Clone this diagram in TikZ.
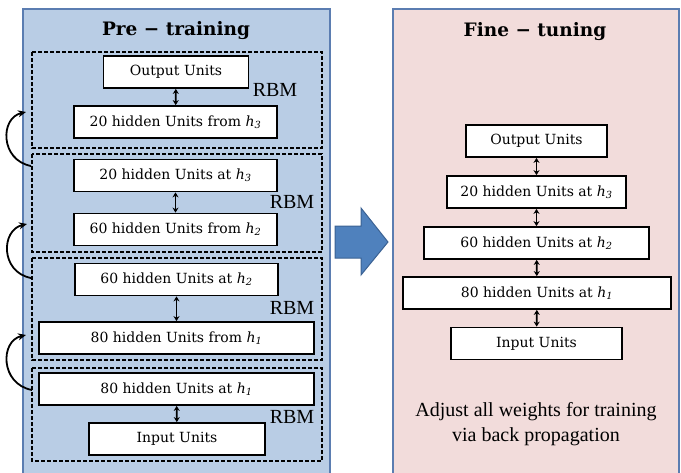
\documentclass[tikz,border=0pt]{standalone}
\usepackage{fontspec}
\setmainfont{DejaVu Serif}
\newfontfamily\timesf{Liberation Serif}
\usetikzlibrary{arrows.meta}
\definecolor{leftfill}{HTML}{B9CDE5}
\definecolor{rightfill}{HTML}{F2DCDB}
\definecolor{panelline}{HTML}{5B7DB1}
\definecolor{bigarrow}{HTML}{4F81BD}
\definecolor{bigarrowline}{HTML}{3B6293}
\newcommand{\hsub}[1]{\textit{h}\textsubscript{\textit{#1}}}
\tikzset{
  panel/.style={draw=panelline, line width=1.5pt},
  unitbox/.style={draw=black, fill=white, line width=1.8pt, minimum height=32, inner sep=0pt,
    font=\fontsize{14}{16}\selectfont},
  dashbox/.style={draw=black, line width=1.1pt, dash pattern=on 4pt off 2pt},
  dblarrow/.style={line width=1.6pt, {Stealth[length=5pt,width=6pt]}-{Stealth[length=5pt,width=6pt]}},
  curvarrow/.style={line width=1.8pt, -{Stealth[length=8pt,width=7pt]}},
  rbm/.style={font=\timesf\fontsize{20}{22}\selectfont, inner sep=0pt},
  titletext/.style={font=\bfseries\fontsize{18.5}{20}\selectfont, inner sep=0pt},
}
\begin{document}
\begin{tikzpicture}[x=1pt,y=-1pt]
\useasboundingbox (0,0) rectangle (681,472);
\begin{scope}
\clip (0,0) rectangle (681,472);
% panels
\draw[panel, fill=leftfill] (23,9) rectangle (330,490);
\draw[panel, fill=rightfill] (393,9) rectangle (679,490);
\end{scope}
% big arrow
\draw[fill=bigarrow, draw=bigarrowline, line width=1pt]
  (335,226) -- (361,226) -- (361,208) -- (388,242) -- (361,275) -- (361,258) -- (335,258) -- cycle;
% titles
\node[titletext] (t1) at (176,31) {Pre − training};
\node[titletext] (t2) at (535,32) {Fine − tuning};
% dashed RBM groups
\draw[dashbox] (32,52) rectangle (322,148);
\draw[dashbox] (32,154) rectangle (322,252);
\draw[dashbox] (32,258) rectangle (322,360);
\draw[dashbox] (32,368) rectangle (322,461);
% left units
\node[unitbox, minimum width=145] (l1) at (176,72) {Output Units};
\node[unitbox, minimum width=203] (l2) at (175.5,122) {20 hidden Units from \hsub{3}};
\node[unitbox, minimum width=203] (l3) at (175.5,175.5) {20 hidden Units at \hsub{3}};
\node[unitbox, minimum width=203] (l4) at (175.5,229.5) {60 hidden Units from \hsub{2}};
\node[unitbox, minimum width=203] (l5) at (176.5,279.5) {60 hidden Units at \hsub{2}};
\node[unitbox, minimum width=275] (l6) at (176.5,338) {80 hidden Units from \hsub{1}};
\node[unitbox, minimum width=275] (l7) at (176.5,389) {80 hidden Units at \hsub{1}};
\node[unitbox, minimum width=176] (l8) at (177,439) {Input Units};
\draw[dblarrow] (l1) -- (l2);
\draw[dblarrow] (l3) -- (l4);
\draw[dblarrow] (l5) -- (l6);
\draw[dblarrow] (l7) -- (l8);
% RBM labels
\node[rbm] (r1) at (275,90) {RBM};
\node[rbm] (r2) at (292,202) {RBM};
\node[rbm] (r3) at (292,308) {RBM};
\node[rbm] (r4) at (292,417) {RBM};
% curved arrows between groups
\coordinate (c1s) at (31,166);
\coordinate (c1e) at (26,112);
\coordinate (c2s) at (31,278);
\coordinate (c2e) at (27,224);
\coordinate (c3s) at (32,390);
\coordinate (c3e) at (26,335);
\draw[curvarrow] (c1s) .. controls (0,160) and (0,118) .. (c1e);
\draw[curvarrow] (c2s) .. controls (0,272) and (1,230) .. (c2e);
\draw[curvarrow] (c3s) .. controls (0,384) and (0,341) .. (c3e);
% right units
\node[unitbox, minimum width=141] (f1) at (536.5,141) {Output Units};
\node[unitbox, minimum width=179] (f2) at (536.5,192) {20 hidden Units at \hsub{3}};
\node[unitbox, minimum width=225] (f3) at (536.5,243) {60 hidden Units at \hsub{2}};
\node[unitbox, minimum width=268] (f4) at (537,293) {80 hidden Units at \hsub{1}};
\node[unitbox, minimum width=171] (f5) at (536.5,343.5) {Input Units};
\draw[dblarrow] (f1) -- (f2);
\draw[dblarrow] (f2) -- (f3);
\draw[dblarrow] (f3) -- (f4);
\draw[dblarrow] (f4) -- (f5);
% caption text
\node[align=center, inner sep=0pt, font=\timesf\fontsize{20}{25}\selectfont] (cap) at (536,424)
  {Adjust all weights for training\\via back propagation};
\end{tikzpicture}
\end{document}
